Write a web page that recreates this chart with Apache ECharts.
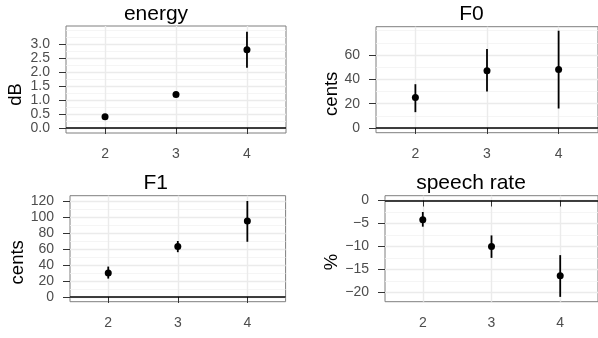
<!DOCTYPE html>
<html>
<head>
<meta charset="utf-8">
<script src="https://cdn.jsdelivr.net/npm/echarts@6/dist/echarts.min.js"></script>
<style>
  html, body { margin: 0; padding: 0; background: #fff; }
  #chart { width: 598px; height: 338px; }
</style>
</head>
<body>
<div id="chart"></div>
<script>
// x positions shared by every panel
const categories = [2, 3, 4];

// energy (dB)
const energyMean = [0.40, 1.20, 2.81];
const energyLo = [0.33, 1.12, 2.16];
const energyHi = [0.48, 1.28, 3.45];
const energyTicks = [0, 0.5, 1.0, 1.5, 2.0, 2.5, 3.0];
const energyMinor = [0.25, 0.75, 1.25, 1.75, 2.25, 2.75, 3.25, 3.5];

// F0 (cents)
const f0Mean = [25, 47, 48];
const f0Lo = [13, 30, 16];
const f0Hi = [36, 65, 80];
const f0Ticks = [0, 20, 40, 60];
const f0Minor = [10, 30, 50, 70, 80];

// F1 (cents)
const f1Mean = [30, 63, 95];
const f1Lo = [23, 56, 69];
const f1Hi = [38, 70, 120];
const f1Ticks = [0, 20, 40, 60, 80, 100, 120];
const f1Minor = [10, 30, 50, 70, 90, 110];

// speech rate (%)
const rateMean = [-4.2, -10.0, -16.4];
const rateLo = [-5.7, -12.5, -21.0];
const rateHi = [-2.5, -7.6, -11.9];
const rateTicks = [-20, -15, -10, -5, 0];
const rateMinor = [-17.5, -12.5, -7.5, -2.5];

const FONT = "'Liberation Sans', Arial, sans-serif";

const panels = [
  { title: 'energy', unit: 'dB', mean: energyMean, lo: energyLo, hi: energyHi, ticks: energyTicks, minor: energyMinor,
    ymin: -0.18, ymax: 3.66, fmt: v => v.toFixed(1),
    grid: { left: 66, top: 26, width: 220, height: 107 }, titleX: 156, titleY: 14, unitX: 15.5, unitY: 94.5 },
  { title: 'F0', unit: 'cents', mean: f0Mean, lo: f0Lo, hi: f0Hi, ticks: f0Ticks, minor: f0Minor,
    ymin: -3.9, ymax: 83.3, fmt: v => String(v),
    grid: { left: 376, top: 26.7, width: 224.5, height: 106 }, titleX: 471.5, titleY: 14, unitX: 331.7, unitY: 93.8 },
  { title: 'F1', unit: 'cents', mean: f1Mean, lo: f1Lo, hi: f1Hi, ticks: f1Ticks, minor: f1Minor,
    ymin: -5.9, ymax: 126.6, fmt: v => String(v),
    grid: { left: 70, top: 195.7, width: 215.6, height: 106 }, titleX: 155.7, titleY: 183, unitX: 17.7, unitY: 262.3 },
  { title: 'speech rate', unit: '%', mean: rateMean, lo: rateLo, hi: rateHi, ticks: rateTicks, minor: rateMinor,
    ymin: -22.05, ymax: 1.05, fmt: v => String(v).replace('-', '\u2212'),
    grid: { left: 385, top: 195.7, width: 215, height: 106 }, titleX: 471, titleY: 183, unitX: 331.7, unitY: 262 }
];

const grid = [], xAxis = [], yAxis = [], series = [], graphic = [];

panels.forEach((p, i) => {
  grid.push(Object.assign({
    show: true, backgroundColor: '#fff', borderColor: '#7f7f7f', borderWidth: 1, containLabel: false
  }, p.grid));

  xAxis.push({
    type: 'value', gridIndex: i, min: 1.45, max: 4.55,
    axisLine: { show: false },
    axisTick: { show: true, inside: false, length: 6, customValues: categories, lineStyle: { color: '#333', width: 1 } },
    axisLabel: { show: true, customValues: categories, margin: 14, color: '#4d4d4d', fontSize: 14, fontFamily: FONT },
    splitLine: { show: true, lineStyle: { color: '#ebebeb', width: 1.4 } }
  });

  // labelled axis with major gridlines
  yAxis.push({
    type: 'value', gridIndex: i, min: p.ymin, max: p.ymax,
    axisLine: { show: false },
    axisTick: { show: true, inside: false, length: 7, customValues: p.ticks, lineStyle: { color: '#333', width: 1 } },
    axisLabel: { show: true, customValues: p.ticks, margin: 16, color: '#4d4d4d', fontSize: 14, fontFamily: FONT, formatter: p.fmt },
    splitLine: { show: true, lineStyle: { color: '#ebebeb', width: 1.4 } }
  });
  // hidden axis only for the minor gridlines
  yAxis.push({
    type: 'value', gridIndex: i, min: p.ymin, max: p.ymax,
    axisLine: { show: false },
    axisTick: { show: false, customValues: p.minor },
    axisLabel: { show: false, customValues: p.minor },
    splitLine: { show: true, lineStyle: { color: '#f3f3f3', width: 0.8 } }
  });

  const bars = categories.map((c, k) => [c, p.lo[k], p.hi[k]]);
  series.push({
    type: 'custom', xAxisIndex: i, yAxisIndex: 2 * i, z: 3,
    data: bars,
    renderItem: (params, api) => {
      const a = api.coord([api.value(0), api.value(1)]);
      const b = api.coord([api.value(0), api.value(2)]);
      return { type: 'line', shape: { x1: a[0], y1: a[1], x2: b[0], y2: b[1] }, style: { stroke: '#000', lineWidth: 1.8 } };
    }
  });
  series.push({
    type: 'scatter', xAxisIndex: i, yAxisIndex: 2 * i, z: 4,
    symbol: 'circle', symbolSize: 7,
    itemStyle: { color: '#000', opacity: 1 },
    data: categories.map((c, k) => [c, p.mean[k]]),
    markLine: {
      silent: true, symbol: 'none', label: { show: false },
      lineStyle: { color: '#000', width: 1.6, type: 'solid' },
      data: [{ yAxis: 0 }]
    }
  });

  graphic.push({
    type: 'text', x: p.titleX, y: p.titleY,
    style: { text: p.title, fill: '#000', font: '21px ' + FONT, align: 'center', verticalAlign: 'middle' }
  });
  graphic.push({
    type: 'text', x: p.unitX, y: p.unitY, rotation: Math.PI / 2,
    style: { text: p.unit, fill: '#000', font: '18.5px ' + FONT, align: 'center', verticalAlign: 'middle' }
  });
});

const chart = echarts.init(document.getElementById('chart'), null, { renderer: 'canvas' });
chart.setOption({
  animation: false,
  backgroundColor: '#fff',
  grid, xAxis, yAxis, series, graphic
});
</script>
</body>
</html>
